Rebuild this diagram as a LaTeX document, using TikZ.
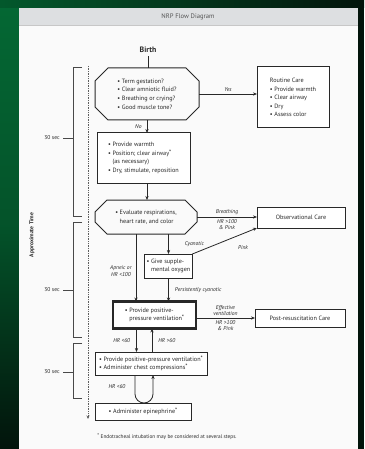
\documentclass[tikz,border=0pt]{standalone}
\usepackage{fontspec}
\setmainfont{PT Sans}
\usepackage{tikz}
\usetikzlibrary{arrows.meta,positioning,calc}
\definecolor{ink}{RGB}{40,40,40}
\definecolor{paper}{RGB}{250,250,250}
\definecolor{headbar}{RGB}{221,223,225}
\definecolor{nrpgreen}{RGB}{4,104,52}
\definecolor{nrpdark}{RGB}{2,20,11}
\newcommand{\boxfont}{\fontsize{6.2}{8.6}\selectfont}
\newcommand{\lblfont}{\fontsize{5.6}{6.4}\selectfont\itshape}
\newcommand{\secfont}{\fontsize{5.6}{6}\selectfont}
\newcommand{\bul}{\textbullet\ }
\newcommand{\hang}{\phantom{\textbullet\ }}
\newcommand{\ftmark}{\raisebox{0.35ex}{*}}
% octagon drawn round a plain node
\newcommand{\chamferframe}[2]{%
  \draw[line] ([xshift=#2]#1.north west) -- ([xshift=-#2]#1.north east)
    -- ([yshift=-#2]#1.north east) -- ([yshift=#2]#1.south east)
    -- ([xshift=-#2]#1.south east) -- ([xshift=#2]#1.south west)
    -- ([yshift=#2]#1.south west) -- ([yshift=-#2]#1.north west) -- cycle;}

\begin{document}
\begin{tikzpicture}[x=1pt,y=-1pt,
  box/.style={draw=ink, line width=1pt, fill=white, align=left, font=\boxfont,
              text=ink, inner sep=2pt, outer sep=0pt},
  octa/.style={align=left, font=\boxfont, text=ink, inner sep=2pt, outer sep=0pt},
  lbl/.style={font=\lblfont, text=ink, inner sep=1pt, align=center},
  arr/.style={-{Stealth[length=4pt,width=3.2pt]}, draw=ink, line width=0.8pt},
  line/.style={draw=ink, line width=1pt},
  bracket/.style={draw=ink!85, line width=0.6pt}]
  \useasboundingbox (0,0) rectangle (364,449);
  % slide background and page
  \fill[nrpdark] (0,0) rectangle (364,449);
  \shade[top color=nrpgreen, bottom color=nrpdark, middle color=nrpgreen!75!nrpdark] (0,0) rectangle (19,449);
  \shade[left color=nrpgreen!85!black, right color=nrpdark] (0,0) rectangle (364,8);
  \fill[paper] (19,8) rectangle (358,449);
  \fill[headbar] (19,8) rectangle (358,25);
  \draw[black!22, line width=0.8pt] (19,25) -- (358,25);
  \node[font=\fontsize{6.6}{7}\selectfont, text=ink!80] (title) at (188,17) {NRP Flow Diagram};

  % flow
  \node[font=\fontsize{7.8}{8}\selectfont\bfseries, text=ink] (birth) at (148,50) {Birth};
  \node[octa, minimum width=104pt, minimum height=52pt] (q1) at (147,94)
    {\bul Term gestation?\\\bul Clear amniotic fluid?\\\bul Breathing or crying?\\\bul Good muscle tone?};
  \chamferframe{q1}{13pt}
  \node[box, minimum width=72pt, minimum height=61pt] (routine) at (293,97.5)
    {Routine Care\\\bul Provide warmth\\\bul Clear airway\\\bul Dry\\\bul Assess color};
  \node[box, minimum width=93pt, minimum height=50pt] (warm) at (143.5,158)
    {\bul Provide warmth\\\bul Position; clear airway\ftmark\\\hang(as necessary)\\\bul Dry, stimulate, reposition};
  \node[octa, minimum width=102pt, minimum height=34pt] (eval) at (146,217)
    {\bul Evaluate respirations,\\\hang heart rate, and color};
  \chamferframe{eval}{12pt}
  \node[box, minimum width=88pt, minimum height=21pt] (obs) at (301,217.5) {Observational Care};
  \node[box, minimum width=47pt, minimum height=24pt] (oxy) at (168.5,266)
    {\bul Give supple-\\\hang mental oxygen};
  \node[box, line width=2.4pt, minimum width=83pt, minimum height=27pt] (ppv) at (154.5,315)
    {\bul Provide positive-\\\hang pressure ventilation\ftmark};
  \node[box, minimum width=90pt, minimum height=18pt] (post) at (300,318) {Post-resuscitation Care};
  \node[box, minimum width=112pt, minimum height=23pt] (cc) at (151,363.5)
    {\bul Provide positive-pressure ventilation\ftmark\\\bul Administer chest compressions\ftmark};
  \node[box, minimum width=96pt, minimum height=17pt] (epi) at (143,411.5)
    {\bul Administer epinephrine\ftmark};

  \draw[line, line width=0.8pt] (birth.south) -- (birth.south |- q1.north);
  \draw[arr] (q1.east) -- (q1.east -| routine.west) node[lbl, midway, above=1pt] (yes) {Yes};
  \draw[arr] (q1.south) -- (q1.south |- warm.north) node[lbl, midway, left=4pt] (no) {No};
  \draw[arr] (q1.south |- warm.south) -- (q1.south |- eval.north);
  \draw[arr] (eval.east) -- (eval.east -| obs.west)
    node[lbl, midway, above=1pt] (breath) {Breathing}
    node[lbl, midway, below=1pt] (pink1) {HR >100\\\& Pink};
  \draw[arr] (oxy.north |- eval.south) -- (oxy.north)
    node[lbl, midway, right=15pt] (cyan) {Cyanotic};
  \draw[arr] (oxy.north east) -- (obs.south west);
  \node[lbl] (pink2) at (243,248) {Pink};
  \draw[arr] ([xshift=-10pt]eval.south) -- ([xshift=-10pt]eval.south |- ppv.north)
    node[lbl, pos=0.55, left=3pt] (apneic) {Apneic or\\HR <100};
  \draw[arr] (oxy.south) -- (oxy.south |- ppv.north)
    node[lbl, midway, right=5pt] (persist) {Persistently cyanotic};
  \draw[arr] (ppv.east |- post.west) -- (post.west)
    node[lbl, midway, above=1pt] (effect) {Effective\\ventilation}
    node[lbl, midway, below=1pt] (pink3) {HR >100\\\& Pink};
  \draw[arr] ([xshift=-18pt]ppv.south) -- ([xshift=-18pt]ppv.south |- cc.north)
    node[lbl, midway, left=5pt] (hr1) {HR <60};
  \draw[arr] ([xshift=-2.5pt]ppv.south |- cc.north) -- ([xshift=-2.5pt]ppv.south)
    node[lbl, midway, right=5pt] (hr2) {HR >60};
  \draw[arr] ([xshift=-16pt]cc.south) -- ([xshift=-16pt,yshift=-19pt]cc.south)
    arc(180:360:9pt) -- ([xshift=2pt]cc.south);
  \node[lbl] (hr3) at (117,387) {HR <60};

  % time axis
  \coordinate (tstart) at (88,66);
  \coordinate (tend) at (88,419);
  \draw[draw=ink!75, densely dotted, line width=0.7pt, -{Stealth[length=3.5pt,width=3pt]}] (tstart) -- (tend);
  \draw[bracket] (82,67) -- (73,67) -- (73,216) -- (82,216);
  \draw[bracket] (82,222) -- (73,222) -- (73,337) -- (82,337);
  \draw[bracket] (82,343) -- (73,343) -- (73,398) -- (82,398);
  \node[font=\secfont, text=ink] (sec1) at (52,138) {30 sec};
  \node[font=\secfont, text=ink] (sec2) at (52,290) {30 sec};
  \node[font=\secfont, text=ink] (sec3) at (52,372) {30 sec};
  \draw[bracket] (sec1.east) -- (sec1.east -| 73,0);
  \draw[bracket] (sec2.east) -- (sec2.east -| 73,0);
  \draw[bracket] (sec3.east) -- (sec3.east -| 73,0);
  \node[rotate=90, font=\fontsize{5.6}{6}\selectfont\bfseries, text=ink] (axis) at (32,235) {Approximate Time};

  \node[font=\fontsize{5.3}{6}\selectfont, text=ink] (note) at (167,437)
    {\ftmark\ Endotracheal intubation may be considered at several steps.};
\end{tikzpicture}
\end{document}
